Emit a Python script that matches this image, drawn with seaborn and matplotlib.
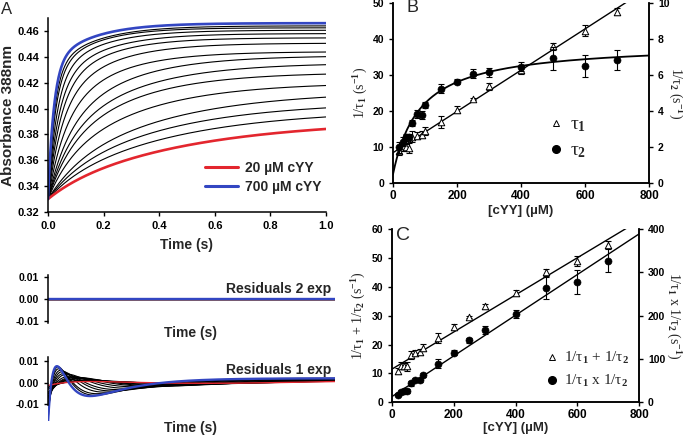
import numpy as np
import matplotlib
matplotlib.use('Agg')
import matplotlib.pyplot as plt
import seaborn as sns
from matplotlib.lines import Line2D
from matplotlib.ticker import FormatStrFormatter

# cYY concentrations (uM), one kinetic trace per concentration
conc = np.array([20, 30, 40, 50, 60, 75, 90, 100, 150, 200, 250, 300, 400, 500, 600, 700])

# Panel B: observed rates (s^-1) with error bars
rate1 = np.array([9.0, 10.3, 10.0, 9.8, 13.0, 13.2, 13.5, 14.5, 17.0, 20.4, 23.4, 27.0, 31.5, 38.1, 42.4, 47.7])
rate1_err = np.array([1.0, 1.2, 1.0, 1.5, 1.5, 1.0, 1.0, 1.2, 1.7, 1.0, 0.3, 1.0, 1.0, 1.0, 1.5, 1.0])
rate2 = np.array([2.0, 2.3, 2.55, 2.6, 3.35, 3.85, 3.8, 4.35, 5.25, 5.63, 6.1, 6.17, 6.48, 6.94, 6.54, 6.86])
rate2_err = np.array([0.3, 0.25, 0.2, 0.15, 0.15, 0.2, 0.2, 0.14, 0.25, 0.14, 0.23, 0.25, 0.24, 0.65, 0.61, 0.56])

# Panel A: absorbance at t = 1 s and share of the slow phase for each trace
abs_start = 0.330
abs_end = np.array([0.3842, 0.3935, 0.4005, 0.4088, 0.4178, 0.4266, 0.4339, 0.4401,
                    0.4437, 0.4504, 0.4546, 0.4579, 0.4605, 0.4624, 0.4639, 0.4660])
slow_frac = np.array([0.88, 0.85, 0.82, 0.78, 0.74, 0.68, 0.62, 0.58,
                      0.50, 0.44, 0.38, 0.34, 0.30, 0.28, 0.26, 0.24])

# fitted lines as drawn in B and C
fit_b1 = (0.0573, 8.5)           # 1/tau1 = slope*[cYY] + intercept
fit_b2 = (0.5, 7.3, 85.0)        # 1/tau2 = y0 + ymax*[cYY]/(K + [cYY])
fit_sum = (0.0642, 11.5)
fit_prod = (0.469, 13.3)

RED = '#e3262e'
BLUE = '#3346c2'

sns.set_style('ticks')
plt.rcParams['font.family'] = ['Liberation Sans', 'DejaVu Sans']
plt.rcParams['font.weight'] = 'bold'
plt.rcParams['axes.labelweight'] = 'bold'
plt.rcParams['mathtext.fontset'] = 'custom'
plt.rcParams['mathtext.rm'] = 'Liberation Serif'
plt.rcParams['mathtext.it'] = 'Liberation Serif:italic'
plt.rcParams['mathtext.bf'] = 'Liberation Serif:bold'
plt.rcParams['mathtext.default'] = 'rm'
plt.rcParams['axes.linewidth'] = 1.1
plt.rcParams['xtick.major.width'] = 1.0
plt.rcParams['ytick.major.width'] = 1.0
plt.rcParams['xtick.major.size'] = 3
plt.rcParams['ytick.major.size'] = 3
plt.rcParams['xtick.color'] = 'black'
plt.rcParams['ytick.color'] = 'black'
plt.rcParams['axes.edgecolor'] = 'black'

SERIF = ['Liberation Serif', 'DejaVu Serif']

W, H = 683, 437
fig = plt.figure(figsize=(W / 100, H / 100), dpi=100)


def box(l, t, r, b):
    return fig.add_axes([l / W, 1 - b / H, (r - l) / W, (b - t) / H])


# ---- build traces (double exponential) ----
t = np.linspace(0, 1, 1000)
traces = []
for i in range(len(conc)):
    f = slow_frac[i]
    g1 = f * np.exp(-rate2[i]) + (1 - f) * np.exp(-rate1[i])
    amp = (abs_end[i] - abs_start) / (1 - g1)
    y = abs_start + amp * (1 - f * np.exp(-rate2[i] * t) - (1 - f) * np.exp(-rate1[i] * t))
    traces.append(y)


def single_exp_residual(tt, y):
    best_sse, best_fit = None, None
    for k in np.logspace(-0.5, 2.5, 500):
        X = np.column_stack([np.ones_like(tt), np.exp(-k * tt)])
        coef = np.linalg.lstsq(X, y, rcond=None)[0]
        fit = X @ coef
        sse = np.sum((fit - y) ** 2)
        if best_sse is None or sse < best_sse:
            best_sse, best_fit = sse, fit
    return y - best_fit


res1 = [single_exp_residual(t, y) for y in traces]
res2 = [np.zeros_like(t) for y in traces]


def style_of(i):
    if i == 0:
        return RED, 1.9
    if i == len(conc) - 1:
        return BLUE, 1.9
    return 'black', 0.8


draw_order = list(range(1, len(conc) - 1)) + [0, len(conc) - 1]

# ---- Panel A main ----
axA = box(48, 18, 326, 212)
for i in draw_order:
    c, lw = style_of(i)
    sns.lineplot(x=t, y=traces[i], color=c, lw=lw, ax=axA, legend=False)
axA.set_xlim(0, 1.0)
axA.set_ylim(0.32, 0.47)
axA.set_xticks(np.arange(0, 1.01, 0.2))
axA.set_yticks(np.arange(0.32, 0.461, 0.02))
axA.xaxis.set_major_formatter(FormatStrFormatter('%.1f'))
axA.yaxis.set_major_formatter(FormatStrFormatter('%.2f'))
axA.tick_params(labelsize=8)
sns.despine(ax=axA)
axA.set_xlabel('Time (s)', fontsize=10)
axA.set_ylabel('Absorbance 388nm', fontsize=11)
axA.xaxis.set_label_coords(0.5, -0.135)
axA.yaxis.set_label_coords(-0.12, 0.5)
handles = [Line2D([], [], color=RED, lw=2.2), Line2D([], [], color=BLUE, lw=2.2)]
axA.legend(handles, ['20 \u00b5M cYY', '700 \u00b5M cYY'], loc='upper left',
           bbox_to_anchor=(205 / W, 1 - 161 / H), bbox_transform=fig.transFigure,
           frameon=False, fontsize=10, handlelength=2.4, handletextpad=0.5,
           labelspacing=0.38, borderpad=0, borderaxespad=0)
fig.text(7 / W, 1 - 9 / H, 'A', fontsize=12, fontweight='normal', ha='center', va='center')

# ---- residual panels ----
for res, rect, lim, bounds, label, lab_y, time_y in [
        (res2, (48, 273, 335, 325.5), (-0.012, 0.012), (-0.011, 0.011), 'Residuals 2 exp', 289, 333),
        (res1, (48, 357, 335, 421), (-0.018, 0.012), (-0.0105, 0.012), 'Residuals 1 exp', 370, 428)]:
    ax = box(*rect)
    for i in draw_order:
        c, lw = style_of(i)
        lw_res = {'black': 0.8, RED: 1.0, BLUE: 1.7}[c]
        sns.lineplot(x=t, y=res[i], color=c, lw=lw_res, ax=ax, legend=False)
    ax.set_xlim(0, 1.0)
    ax.set_ylim(*lim)
    ax.set_yticks([-0.01, 0.0, 0.01])
    ax.yaxis.set_major_formatter(FormatStrFormatter('%.2f'))
    ax.tick_params(labelsize=7.5)
    ax.set_xticks([])
    sns.despine(ax=ax, bottom=True)
    ax.spines['left'].set_bounds(*bounds)
    ax.set_xlabel('')
    fig.text(331 / W, 1 - lab_y / H, label, fontsize=10, ha='right', va='center')
    fig.text(190 / W, 1 - time_y / H, 'Time (s)', fontsize=10, ha='center', va='center')

# ---- Panel B ----
axB = box(393, 3.3, 649, 183.3)
axB2 = axB.twinx()
xx = np.linspace(0, 800, 400)
axB.plot(xx, fit_b1[0] * xx + fit_b1[1], color='black', lw=1.0)
axB.errorbar(conc, rate1, yerr=rate1_err, fmt='none', ecolor='black', elinewidth=0.8, capsize=2.5, capthick=0.8)
sns.scatterplot(x=conc, y=rate1, marker='^', s=22, facecolor='white', edgecolor='black', linewidth=0.7, ax=axB, zorder=3)
axB2.plot(xx, fit_b2[0] + fit_b2[1] * xx / (fit_b2[2] + xx), color='black', lw=1.3)
axB2.errorbar(conc, rate2, yerr=rate2_err, fmt='none', ecolor='black', elinewidth=0.8, capsize=2.5, capthick=0.8)
sns.scatterplot(x=conc, y=rate2, marker='o', s=26, color='black', edgecolor='black', ax=axB2, zorder=3)
axB.set_xlim(0, 800)
axB.set_ylim(0, 50)
axB2.set_ylim(0, 10)
axB.set_xticks(range(0, 801, 200))
axB.set_yticks(range(0, 51, 10))
axB2.set_yticks(range(0, 11, 2))
axB.tick_params(axis='x', labelsize=8.5, pad=1.5)
axB.tick_params(axis='y', labelsize=7.5)
axB2.tick_params(axis='y', labelsize=7.5)
for a in (axB, axB2):
    a.spines['top'].set_visible(False)
axB.set_xlabel('[cYY] (\u00b5M)', fontsize=9.5)
axB.xaxis.set_label_coords(0.5, -0.118)
axB.set_ylabel('1/\u03c4$_1$ (s$^{-1}$)', fontsize=10, fontweight='normal', family=SERIF)
axB.yaxis.set_label_coords(-0.088, 0.5)
axB2.set_ylabel('1/\u03c4$_2$ (s$^{-1}$)', fontsize=10, fontweight='normal', family=SERIF,
                rotation=270, va='bottom')
axB2.yaxis.set_label_coords(1.066, 0.5)
hB = [Line2D([], [], marker='^', ls='none', mfc='white', mec='black', ms=5, mew=0.7),
      Line2D([], [], marker='o', ls='none', mfc='black', mec='black', ms=5.5)]
axB.legend(hB, ['\u03c4$_1$', '\u03c4$_2$'], loc='upper left',
           bbox_to_anchor=(548 / W, 1 - 116 / H), bbox_transform=fig.transFigure,
           frameon=False, prop={'family': SERIF, 'size': 14, 'weight': 'normal'},
           handlelength=0.8, handletextpad=0.35, labelspacing=0.4, borderpad=0, borderaxespad=0)
fig.text(412 / W, 1 - 8 / H, 'B', fontsize=13, fontweight='normal', ha='center', va='center')

# ---- Panel C ----
rate_sum = rate1 + rate2
rate_sum_err = np.sqrt(rate1_err ** 2 + rate2_err ** 2)
rate_prod = rate1 * rate2
rate_prod_err = rate_prod * np.sqrt((rate1_err / rate1) ** 2 + (rate2_err / rate2) ** 2)

axC = box(392, 229, 639, 402.3)
axC2 = axC.twinx()
axC.plot(xx, fit_sum[0] * xx + fit_sum[1], color='black', lw=1.0)
axC.errorbar(conc, rate_sum, yerr=rate_sum_err, fmt='none', ecolor='black', elinewidth=0.8, capsize=2.5, capthick=0.8)
sns.scatterplot(x=conc, y=rate_sum, marker='^', s=22, facecolor='white', edgecolor='black', linewidth=0.7, ax=axC, zorder=3)
axC2.plot(xx, fit_prod[0] * xx + fit_prod[1], color='black', lw=1.0)
axC2.errorbar(conc, rate_prod, yerr=rate_prod_err, fmt='none', ecolor='black', elinewidth=0.8, capsize=2.5, capthick=0.8)
sns.scatterplot(x=conc, y=rate_prod, marker='o', s=26, color='black', edgecolor='black', ax=axC2, zorder=3)
axC.set_xlim(0, 800)
axC.set_ylim(0, 60)
axC2.set_ylim(0, 400)
axC.set_xticks(range(0, 801, 200))
axC.set_yticks(range(0, 61, 10))
axC2.set_yticks(range(0, 401, 100))
axC.tick_params(axis='x', labelsize=8.5, pad=1.5)
axC.tick_params(axis='y', labelsize=7.5)
axC2.tick_params(axis='y', labelsize=7.5)
for a in (axC, axC2):
    a.spines['top'].set_visible(False)
axC.set_xlabel('[cYY] (\u00b5M)', fontsize=9.5)
axC.xaxis.set_label_coords(0.5, -0.115)
axC.set_ylabel('1/\u03c4$_1$ + 1/\u03c4$_2$ (s$^{-1}$)', fontsize=10, fontweight='normal', family=SERIF)
axC.yaxis.set_label_coords(-0.097, 0.5)
axC2.set_ylabel('1/\u03c4$_1$ x 1/\u03c4$_2$ (s$^{-1}$)', fontsize=10, fontweight='normal', family=SERIF,
                rotation=270, va='bottom')
axC2.yaxis.set_label_coords(1.1, 0.5)
hC = [Line2D([], [], marker='^', ls='none', mfc='white', mec='black', ms=5, mew=0.7),
      Line2D([], [], marker='o', ls='none', mfc='black', mec='black', ms=5.5)]
axC.legend(hC, ['1/\u03c4$_1$ + 1/\u03c4$_2$', '1/\u03c4$_1$ x 1/\u03c4$_2$'],
           loc='upper left', bbox_to_anchor=(546 / W, 1 - 350 / H), bbox_transform=fig.transFigure,
           frameon=False, prop={'family': SERIF, 'size': 11, 'weight': 'normal'},
           handlelength=0.8, handletextpad=0.4, labelspacing=0.45, borderpad=0, borderaxespad=0)
fig.text(403 / W, 1 - 235 / H, 'C', fontsize=14, fontweight='normal', ha='center', va='center')

fig.savefig('out.png', dpi=100)
